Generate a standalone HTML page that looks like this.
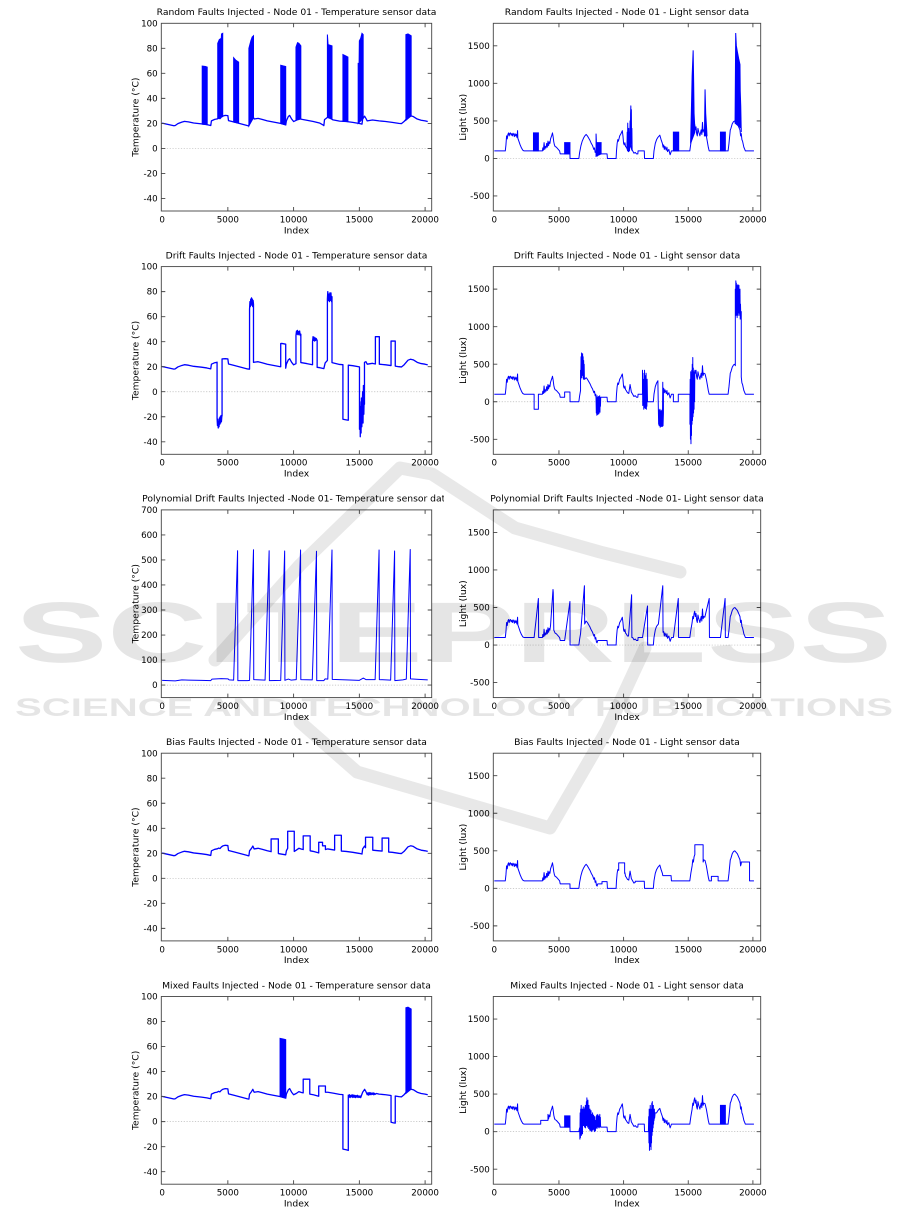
<!DOCTYPE html>
<html><head><meta charset="utf-8"><style>
html,body{margin:0;padding:0;background:#fff;}
svg{display:block;}
.t{font-family:"DejaVu Sans","Liberation Sans",sans-serif;font-size:8.7px;fill:#000;}
.ti{font-family:"DejaVu Sans","Liberation Sans",sans-serif;font-size:9.2px;fill:#000;text-anchor:middle;}
.ya text{text-anchor:end;}
.xa text{text-anchor:middle;}
.ax{fill:none;stroke:#444;stroke-width:0.9;}
.z{stroke:#bbb;stroke-width:0.7;stroke-dasharray:1.2,1.6;}
.d{fill:none;stroke:#0000ff;stroke-width:1.3;vector-effect:non-scaling-stroke;stroke-linejoin:round;}
.dl{fill:none;stroke:#0000ff;stroke-width:1;vector-effect:non-scaling-stroke;stroke-linejoin:round;}
.f{fill:#0000ff;stroke:#0000ff;stroke-width:1;vector-effect:non-scaling-stroke;}
</style></head><body>
<svg width="901" height="1209" viewBox="0 0 901 1209" xmlns="http://www.w3.org/2000/svg">
<defs>
<clipPath id="cl"><rect x="0" y="0" width="270.4" height="187.7"/></clipPath>
<clipPath id="cr"><rect x="0" y="0" width="267.4" height="187.7"/></clipPath>
<clipPath id="ct"><rect x="-200" y="-30" width="482.7" height="40"/></clipPath>
</defs>
<rect width="901" height="1209" fill="#fff"/>

<!-- ========== ROW 1 LEFT ========== -->
<g transform="translate(161.3,23.3)">
<line class="z" x1="0" x2="270.4" y1="125.13" y2="125.13"/>
<g clip-path="url(#cl)"><g transform="translate(0.8,125.13) scale(13.15,-1.2513)">
<polyline class="d" points="0,20.2 0.3,19.5 0.6,18.8 0.9,18.1 1,18.3 1.2,19.8 1.5,21 1.7,21.6 2,21.2 2.4,20.3 3,19.6 3.4,19 3.7,18.3 3.75,22 4,23.2 4.2,23.6 4.3,24.2 4.4,23.8 4.5,25 4.6,25.8 4.8,26.4 5,26.2 5.05,22.2 5.5,21 6,19.6 6.5,18.2 6.6,18 6.65,22 6.8,24 6.9,25.8 7,23.5 7.3,24 7.6,23.2 8,22 8.5,21 9,20 9.4,18.8 9.45,22 9.6,25.5 9.7,26.4 9.85,23.5 10,21.5 10.2,22.5 10.4,24 10.6,23.3 11,22.5 11.5,21.5 12,20.2 12.2,19 12.3,18.2 12.35,23 12.6,25 12.8,24.2 13,22.8 13.5,21.8 14,21.5 14.5,20.8 15,19.9 15.2,19.4 15.25,23.5 15.4,25.8 15.5,24 15.6,22 16,22.7 16.5,22 17,21.5 17.5,20.8 18,20 18.2,19.8 18.4,21.5 18.7,25.2 18.9,26 19.1,25.5 19.4,23.5 19.7,22.5 20,22 20.2,21.5"/>
<polygon class="f" points="3.05,19.4 3.05,65.8 3.3,65.5 3.43,65 3.43,19"/>
<polygon class="f" points="4.23,23.9 4.23,84 4.35,87 4.5,88 4.52,91.5 4.61,92 4.61,25.5"/>
<polygon class="f" points="5.44,21 5.44,72.5 5.6,70.5 5.82,69 5.82,20.2"/>
<polygon class="f" points="6.6,18 6.6,80 6.75,86 6.85,89 6.95,90 6.95,24.5"/>
<polygon class="f" points="9.02,19.9 9.02,66.5 9.2,66 9.4,65.5 9.4,18.8"/>
<polygon class="f" points="10.18,22.4 10.18,81 10.3,84.5 10.4,84 10.55,82 10.55,23.5"/>
<polygon class="f" points="12.57,24.8 12.57,91 12.62,83 12.92,82 12.92,23.3"/>
<polygon class="f" points="13.75,21.6 13.75,75 13.95,74 14.13,73 14.13,21.4"/>
<polygon class="f" points="14.91,20 14.91,68 14.98,68 15,86 15.1,88 15.2,92 15.29,91 15.29,24"/>
<polygon class="f" points="18.54,22.5 18.54,91 18.7,91.5 18.94,90 18.94,26"/>
</g></g>
<rect class="ax" x="0" y="0" width="270.4" height="187.7"/>
<path class="ax" d="M0 25.03h4M0 50.05h4M0 75.08h4M0 100.1h4M0 125.13h4M0 150.16h4M0 175.18h4M270.4 25.03h-4M270.4 50.05h-4M270.4 75.08h-4M270.4 100.1h-4M270.4 125.13h-4M270.4 150.16h-4M270.4 175.18h-4M66.55 187.7v-4M132.3 187.7v-4M198.05 187.7v-4M263.8 187.7v-4M66.55 0v4M132.3 0v4M198.05 0v4M263.8 0v4"/>
<g class="t ya"><text x="-3.6" y="3.1">100</text><text x="-3.6" y="28.13">80</text><text x="-3.6" y="53.15">60</text><text x="-3.6" y="78.18">40</text><text x="-3.6" y="103.2">20</text><text x="-3.6" y="128.23">0</text><text x="-3.6" y="153.26">-20</text><text x="-3.6" y="178.28">-40</text></g>
<g class="t xa"><text x="0.8" y="199.1">0</text><text x="66.55" y="199.1">5000</text><text x="132.3" y="199.1">10000</text><text x="198.05" y="199.1">15000</text><text x="263.8" y="199.1">20000</text></g>
<text class="ti" x="135.2" y="-8.2">Random Faults Injected - Node 01 - Temperature sensor data</text>
<text class="ti" x="135.2" y="210">Index</text>
<text class="ti" transform="translate(-23,93.85) rotate(-90)">Temperature (°C)</text>
</g>

<!-- ========== ROW 1 RIGHT ========== -->
<g transform="translate(493.3,23.3)">
<line class="z" x1="0" x2="267.4" y1="135.14" y2="135.14"/>
<g clip-path="url(#cr)"><g transform="translate(1,135.14) scale(12.93,-0.07508)">
<polyline class="dl" points="0,100 0.85,100 0.9,180 0.95,300 1,260 1.05,320 1.1,340 1.15,300 1.2,335 1.25,340 1.3,310 1.35,330 1.4,300 1.45,335 1.5,320 1.55,290 1.6,330 1.65,300 1.7,320 1.75,280 1.8,370 1.82,270 1.9,230 2,180 2.1,140 2.2,110 2.3,100 3.72,100 3.75,140 3.8,110 3.85,210 3.9,120 3.95,160 4,140 4.05,200 4.1,150 4.15,230 4.2,170 4.25,220 4.3,200 4.35,260 4.45,310 4.5,340 4.55,290 4.6,220 4.65,180 4.7,160 4.8,150 4.9,130 5,110 5.05,100 5.1,60 5.85,60 5.86,0 6.54,0 6.6,80 6.7,170 6.8,230 6.9,270 7,300 7.1,320 7.2,300 7.3,270 7.4,240 7.5,200 7.6,170 7.7,120 7.75,140 7.8,80 7.85,100 7.9,40 7.95,30 8,60 8.72,60 8.75,0 9.42,0 9.45,100 9.5,200 9.55,250 9.6,230 9.7,300 9.8,330 9.9,370 9.95,300 10,200 10.05,180 10.1,210 10.15,160 10.2,150 10.3,120 10.4,110 10.5,230 10.6,130 10.7,100 10.8,70 10.9,80 11,60 11.1,60 11.12,100 11.6,100 11.62,0 12.3,0 12.35,100 12.45,200 12.55,250 12.65,280 12.75,300 12.8,310 12.85,280 12.9,250 13,200 13.05,150 13.1,180 13.15,120 13.2,160 13.3,110 13.35,150 13.4,90 13.5,120 13.55,80 13.6,50 13.7,100 15.12,100 15.2,200 15.3,300 15.35,380 15.4,350 15.45,420 15.5,450 15.55,380 15.6,420 15.65,330 15.7,300 15.75,400 15.8,360 15.9,300 16,380 16.05,320 16.1,480 16.15,350 16.2,380 16.3,370 16.4,300 16.45,250 16.5,200 16.55,150 16.62,100 18.08,100 18.15,200 18.25,380 18.3,400 18.4,460 18.5,490 18.6,500 18.7,480 18.8,460 18.9,420 19,380 19.05,300 19.1,330 19.15,250 19.2,230 19.3,150 19.42,100 20.08,100"/>
<polygon class="f" points="3.03,100 3.03,340 3.41,340 3.41,100"/>
<polygon class="f" points="5.44,60 5.44,210 5.85,210 5.85,60"/>
<polygon class="f" points="7.87,30 7.87,330 7.9,210 8.26,210 8.26,60"/>
<polyline class="dl" points="10.26,120 10.28,350 10.3,100 10.32,470 10.34,110 10.36,300 10.38,90 10.4,400 10.42,120 10.44,350 10.46,100 10.5,500 10.52,150 10.54,600 10.56,700 10.58,200 10.6,650 10.62,120 10.64,400 10.66,100"/>
<polygon class="f" points="13.85,100 13.85,350 14.26,350 14.26,100"/>
<polygon class="f" points="15.18,200 15.25,700 15.3,1100 15.38,1440 15.42,1000 15.45,600 15.51,400 15.51,350"/>
<polygon class="f" points="16.25,300 16.3,920 16.35,600 16.42,400 16.45,300"/>
<polygon class="f" points="17.49,100 17.49,350 17.87,350 17.87,100"/>
<polygon class="f" points="18.62,480 18.67,1670 18.72,1500 18.8,1420 18.9,1330 19,1250 19.02,900 19.06,700 19.1,350 19.1,400 18.62,470"/>
</g></g>
<rect class="ax" x="0" y="0" width="267.4" height="187.7"/>
<path class="ax" d="M0 22.52h4M0 60.06h4M0 97.6h4M0 135.14h4M0 172.68h4M267.4 22.52h-4M267.4 60.06h-4M267.4 97.6h-4M267.4 135.14h-4M267.4 172.68h-4M65.65 187.7v-4M130.3 187.7v-4M194.95 187.7v-4M259.6 187.7v-4M65.65 0v4M130.3 0v4M194.95 0v4M259.6 0v4"/>
<g class="t ya"><text x="-3.5" y="25.62">1500</text><text x="-3.5" y="63.16">1000</text><text x="-3.5" y="100.7">500</text><text x="-3.5" y="138.24">0</text><text x="-3.5" y="175.78">-500</text></g>
<g class="t xa"><text x="1" y="199.1">0</text><text x="65.65" y="199.1">5000</text><text x="130.3" y="199.1">10000</text><text x="194.95" y="199.1">15000</text><text x="259.6" y="199.1">20000</text></g>
<text class="ti" x="133.7" y="-8.2">Random Faults Injected - Node 01 - Light sensor data</text>
<text class="ti" x="133.7" y="210">Index</text>
<text class="ti" transform="translate(-27.3,93.85) rotate(-90)">Light (lux)</text>
</g>

<!-- ========== ROW 2 LEFT ========== -->
<g transform="translate(161.3,266.6)">
<line class="z" x1="0" x2="270.4" y1="125.13" y2="125.13"/>
<g clip-path="url(#cl)"><g transform="translate(0.8,125.13) scale(13.15,-1.2513)">
<polyline class="d" points="0,20.2 0.3,19.5 0.6,18.8 0.9,18.1 1,18.3 1.2,19.8 1.5,21 1.7,21.6 2,21.2 2.4,20.3 3,19.6 3.4,19 3.7,18.3 3.75,22 4,23.2 4.18,23.6 4.18,-21 4.21,-27 4.24,-22 4.27,-29 4.3,-24 4.33,-28 4.36,-21 4.39,-26 4.42,-20 4.45,-25 4.48,-19 4.51,-24 4.54,-20 4.56,-19 4.56,26.2 4.8,26.4 5,26.2 5.05,22.2 5.5,21 6,19.6 6.5,18.2 6.65,18 6.65,66 6.68,72 6.71,68 6.74,74 6.77,69 6.8,75 6.83,70 6.86,74 6.89,68 6.92,73 6.95,70 6.95,23.5 7.3,24 7.6,23.2 8,22 8.5,21 9,20 9.02,20 9.02,38.5 9.1,38.6 9.4,38 9.4,18.8 9.45,22 9.6,25.5 9.7,26.4 9.85,23.5 10,21.5 10.18,22.4 10.18,45 10.22,48.5 10.26,46 10.3,49 10.34,45.5 10.38,48 10.42,46 10.46,48.5 10.5,45 10.55,46 10.55,23.3 11,22.5 11.44,21.6 11.44,40 11.48,44 11.52,41 11.56,43.5 11.6,40.5 11.64,43 11.68,41 11.72,42.5 11.79,41 11.79,19.5 12,19.2 12.3,18.5 12.4,23 12.57,25 12.57,74 12.6,80 12.64,73 12.68,78 12.72,72 12.76,79 12.8,73 12.84,79 12.88,72 12.92,76 12.92,23.3 13.5,21.8 13.75,21.6 13.75,-22 14,-22.5 14.16,-22.8 14.16,21.2 14.5,20.8 15,19.9 15.01,19.8 15.01,-30 15.04,-8 15.07,-36 15.1,-12 15.13,-33 15.16,-5 15.19,-28 15.22,-10 15.25,0 15.28,-25 15.31,5 15.34,-18 15.37,-3 15.39,-10 15.39,23.5 15.5,24 15.6,22 16,22.7 16.22,22.2 16.22,44 16.52,44 16.52,22 17,21.5 17.41,20.9 17.41,40.5 17.73,40.5 17.73,20.5 18,20 18.2,19.8 18.4,21.5 18.7,25.2 18.9,26 19.1,25.5 19.4,23.5 19.7,22.5 20,22 20.2,21.5"/>
</g></g>
<rect class="ax" x="0" y="0" width="270.4" height="187.7"/>
<path class="ax" d="M0 25.03h4M0 50.05h4M0 75.08h4M0 100.1h4M0 125.13h4M0 150.16h4M0 175.18h4M270.4 25.03h-4M270.4 50.05h-4M270.4 75.08h-4M270.4 100.1h-4M270.4 125.13h-4M270.4 150.16h-4M270.4 175.18h-4M66.55 187.7v-4M132.3 187.7v-4M198.05 187.7v-4M263.8 187.7v-4M66.55 0v4M132.3 0v4M198.05 0v4M263.8 0v4"/>
<g class="t ya"><text x="-3.6" y="3.1">100</text><text x="-3.6" y="28.13">80</text><text x="-3.6" y="53.15">60</text><text x="-3.6" y="78.18">40</text><text x="-3.6" y="103.2">20</text><text x="-3.6" y="128.23">0</text><text x="-3.6" y="153.26">-20</text><text x="-3.6" y="178.28">-40</text></g>
<g class="t xa"><text x="0.8" y="199.1">0</text><text x="66.55" y="199.1">5000</text><text x="132.3" y="199.1">10000</text><text x="198.05" y="199.1">15000</text><text x="263.8" y="199.1">20000</text></g>
<text class="ti" x="135.2" y="-8.2">Drift Faults Injected - Node 01 - Temperature sensor data</text>
<text class="ti" x="135.2" y="210">Index</text>
<text class="ti" transform="translate(-23,93.85) rotate(-90)">Temperature (°C)</text>
</g>

<!-- ========== ROW 2 RIGHT ========== -->
<g transform="translate(493.3,266.6)">
<line class="z" x1="0" x2="267.4" y1="135.14" y2="135.14"/>
<g clip-path="url(#cr)"><g transform="translate(1,135.14) scale(12.93,-0.07508)">
<polyline class="dl" points="0,100 0.85,100 0.9,180 0.95,300 1,260 1.05,320 1.1,340 1.15,300 1.2,335 1.25,340 1.3,310 1.35,330 1.4,300 1.45,335 1.5,320 1.55,290 1.6,330 1.65,300 1.7,320 1.75,280 1.8,370 1.82,270 1.9,230 2,180 2.1,140 2.2,110 2.3,100 3.08,100 3.08,-100 3.41,-100 3.41,100 3.72,100 3.75,140 3.8,110 3.85,210 3.9,120 3.95,160 4,140 4.05,200 4.1,150 4.15,230 4.2,170 4.25,220 4.3,200 4.35,260 4.45,310 4.5,340 4.55,290 4.6,220 4.65,180 4.7,160 4.8,150 4.9,130 5,110 5.05,100 5.1,60 5.44,60 5.44,130 5.85,130 5.86,0 6.54,0 6.6,80 6.67,150 6.67,420 6.69,300 6.71,600 6.73,350 6.75,650 6.77,320 6.79,580 6.81,400 6.83,640 6.85,350 6.87,600 6.89,300 6.91,550 6.93,380 6.95,500 6.97,300 7,300 7.1,320 7.2,300 7.3,270 7.4,240 7.5,200 7.6,170 7.7,120 7.75,140 7.8,80 7.85,100 7.87,40 7.89,-150 7.91,50 7.93,-180 7.95,80 7.97,-100 7.99,20 8.01,-170 8.03,60 8.05,-120 8.07,70 8.09,-160 8.11,30 8.13,-90 8.15,80 8.17,-140 8.19,40 8.21,-60 8.23,60 8.26,60 8.72,60 8.75,0 9.42,0 9.45,100 9.5,200 9.55,250 9.6,230 9.7,300 9.8,330 9.9,370 9.95,300 10,200 10.05,180 10.1,210 10.15,160 10.2,150 10.3,120 10.4,110 10.5,230 10.6,130 10.7,100 10.8,70 10.9,80 11,60 11.1,60 11.12,100 11.46,100 11.46,420 11.48,-50 11.5,380 11.52,0 11.54,300 11.56,-100 11.58,250 11.6,-80 11.62,420 11.64,50 11.66,350 11.68,-90 11.7,200 11.72,0 11.74,380 11.76,-100 11.78,150 11.8,-60 11.82,300 11.85,0 12.3,0 12.35,100 12.45,200 12.55,250 12.65,280 12.69,-120 12.71,-300 12.73,-110 12.75,-320 12.77,-130 12.79,-280 12.81,-100 12.83,-340 12.85,-150 12.87,-300 12.89,-120 12.91,-330 12.93,-140 12.95,-290 12.97,-110 12.99,-330 13.01,-160 13.03,260 13.05,-320 13.08,-150 13.08,150 13.1,180 13.15,120 13.2,160 13.3,110 13.35,150 13.4,90 13.5,120 13.55,80 13.6,50 13.7,100 13.85,100 13.85,0 14.23,0 14.23,100 15.13,100 15.13,-300 15.15,300 15.17,-500 15.19,400 15.21,-560 15.23,200 15.25,-450 15.27,420 15.29,-300 15.31,500 15.33,-250 15.35,590 15.37,-200 15.39,450 15.41,-150 15.43,400 15.45,-100 15.47,350 15.49,0 15.51,420 15.55,380 15.6,420 15.65,330 15.7,300 15.75,400 15.8,360 15.9,300 16,380 16.05,320 16.1,480 16.15,350 16.2,380 16.3,370 16.4,300 16.45,250 16.5,200 16.55,150 16.62,100 18.08,100 18.15,200 18.25,380 18.3,400 18.4,460 18.5,490 18.6,500 18.64,480 18.64,1500 18.66,1200 18.68,1610 18.7,1150 18.72,1580 18.74,1200 18.76,1550 18.78,1120 18.8,1500 18.82,1250 18.84,1560 18.86,1150 18.88,1450 18.9,1200 18.92,1550 18.94,1180 18.96,1400 18.98,1150 19,1500 19.02,1100 19.04,1300 19.06,1150 19.1,1200 19.1,330 19.15,250 19.2,230 19.3,150 19.42,100 20.08,100"/>
</g></g>
<rect class="ax" x="0" y="0" width="267.4" height="187.7"/>
<path class="ax" d="M0 22.52h4M0 60.06h4M0 97.6h4M0 135.14h4M0 172.68h4M267.4 22.52h-4M267.4 60.06h-4M267.4 97.6h-4M267.4 135.14h-4M267.4 172.68h-4M65.65 187.7v-4M130.3 187.7v-4M194.95 187.7v-4M259.6 187.7v-4M65.65 0v4M130.3 0v4M194.95 0v4M259.6 0v4"/>
<g class="t ya"><text x="-3.5" y="25.62">1500</text><text x="-3.5" y="63.16">1000</text><text x="-3.5" y="100.7">500</text><text x="-3.5" y="138.24">0</text><text x="-3.5" y="175.78">-500</text></g>
<g class="t xa"><text x="1" y="199.1">0</text><text x="65.65" y="199.1">5000</text><text x="130.3" y="199.1">10000</text><text x="194.95" y="199.1">15000</text><text x="259.6" y="199.1">20000</text></g>
<text class="ti" x="133.7" y="-8.2">Drift Faults Injected - Node 01 - Light sensor data</text>
<text class="ti" x="133.7" y="210">Index</text>
<text class="ti" transform="translate(-27.3,93.85) rotate(-90)">Light (lux)</text>
</g>

<!-- ========== ROW 3 LEFT ========== -->
<g transform="translate(161.3,509.9)">
<line class="z" x1="0" x2="270.4" y1="175.19" y2="175.19"/>
<g clip-path="url(#cl)"><g transform="translate(0.8,175.19) scale(13.15,-0.25027)">
<polyline class="dl" points="0,19 1,17 1.5,21 2,20 3,19 3.7,18 3.8,24 4.5,26 5,25 5.1,21 5.44,20 5.74,537 5.76,18 6.5,18 6.65,19 6.95,541 6.97,22 7.83,20 8.14,537 8.16,18 9.02,19 9.32,536 9.34,19 9.6,24 9.8,20 10.2,22 10.53,540 10.55,22 11.42,21 11.74,535 11.76,18 12.3,18 12.4,25 12.6,24 12.92,540 12.94,23 14,21 15,19 15.3,28 15.5,22 16.2,22 16.5,540 16.52,22 17.38,20 17.68,536 17.7,18 18.3,21 18.57,24 18.87,542 18.89,25 19.5,23 20.2,21"/>
</g></g>
<rect class="ax" x="0" y="0" width="270.4" height="187.7"/>
<path class="ax" d="M0 25.03h4M0 50.05h4M0 75.08h4M0 100.11h4M0 125.14h4M0 150.16h4M0 175.19h4M270.4 25.03h-4M270.4 50.05h-4M270.4 75.08h-4M270.4 100.11h-4M270.4 125.14h-4M270.4 150.16h-4M270.4 175.19h-4M66.55 187.7v-4M132.3 187.7v-4M198.05 187.7v-4M263.8 187.7v-4M66.55 0v4M132.3 0v4M198.05 0v4M263.8 0v4"/>
<g class="t ya"><text x="-3.6" y="3.1">700</text><text x="-3.6" y="28.13">600</text><text x="-3.6" y="53.15">500</text><text x="-3.6" y="78.18">400</text><text x="-3.6" y="103.21">300</text><text x="-3.6" y="128.24">200</text><text x="-3.6" y="153.26">100</text><text x="-3.6" y="178.29">0</text></g>
<g class="t xa"><text x="0.8" y="199.1">0</text><text x="66.55" y="199.1">5000</text><text x="132.3" y="199.1">10000</text><text x="198.05" y="199.1">15000</text><text x="263.8" y="199.1">20000</text></g>
<text class="ti" x="135.2" y="-8.2" clip-path="url(#ct)">Polynomial Drift Faults Injected -Node 01- Temperature sensor data</text>
<text class="ti" x="135.2" y="210">Index</text>
<text class="ti" transform="translate(-23,93.85) rotate(-90)">Temperature (°C)</text>
</g>

<!-- ========== ROW 3 RIGHT ========== -->
<g transform="translate(493.3,509.9)">
<line class="z" x1="0" x2="267.4" y1="135.14" y2="135.14"/>
<g clip-path="url(#cr)"><g transform="translate(1,135.14) scale(12.93,-0.07508)">
<polyline class="dl" points="0,100 0.85,100 0.9,180 0.95,300 1,260 1.05,320 1.1,340 1.15,300 1.2,335 1.25,340 1.3,310 1.35,330 1.4,300 1.45,335 1.5,320 1.55,290 1.6,330 1.65,300 1.7,320 1.75,280 1.8,370 1.82,270 1.9,230 2,180 2.1,140 2.2,110 2.3,100 3.08,100 3.41,620 3.43,100 3.72,100 3.75,140 3.8,110 3.85,210 3.9,120 3.95,160 4,140 4.05,200 4.1,150 4.15,230 4.2,170 4.25,220 4.3,200 4.35,260 4.54,740 4.56,700 4.6,200 4.65,180 4.7,160 4.8,150 4.9,130 5,110 5.05,100 5.1,60 5.44,60 5.85,580 5.86,0 6.54,0 6.6,80 6.67,150 6.97,790 6.99,280 7.1,320 7.2,300 7.3,270 7.4,240 7.5,200 7.6,170 7.7,120 7.75,140 7.8,80 7.85,100 7.9,40 7.95,30 8,60 8.72,60 8.75,0 9.42,0 9.45,100 9.5,200 9.55,250 9.6,230 9.7,300 9.8,330 9.9,370 9.95,300 10,200 10.05,180 10.1,210 10.15,160 10.2,150 10.3,120 10.38,120 10.62,670 10.64,100 10.7,100 10.8,70 10.9,80 11,60 11.1,60 11.12,100 11.46,100 11.85,520 11.86,0 12.3,0 12.35,100 12.45,200 12.55,250 12.69,280 13.03,790 13.05,170 13.1,180 13.15,120 13.2,160 13.3,110 13.35,150 13.4,90 13.5,120 13.55,80 13.6,50 13.7,100 13.85,100 14.23,620 14.25,100 15.12,100 15.2,200 15.3,300 15.35,380 15.4,350 15.45,420 15.5,450 15.55,380 15.6,420 15.65,330 15.7,300 15.75,400 15.8,360 15.9,300 16,380 16.05,320 16.1,480 16.15,350 16.2,380 16.28,370 16.62,620 16.64,100 17.49,100 17.85,620 17.87,100 18.08,100 18.15,200 18.25,380 18.3,400 18.4,460 18.5,490 18.6,500 18.7,480 18.8,460 18.9,420 19,380 19.05,300 19.1,330 19.15,250 19.2,230 19.3,150 19.42,100 20.08,100"/>
</g></g>
<rect class="ax" x="0" y="0" width="267.4" height="187.7"/>
<path class="ax" d="M0 22.52h4M0 60.06h4M0 97.6h4M0 135.14h4M0 172.68h4M267.4 22.52h-4M267.4 60.06h-4M267.4 97.6h-4M267.4 135.14h-4M267.4 172.68h-4M65.65 187.7v-4M130.3 187.7v-4M194.95 187.7v-4M259.6 187.7v-4M65.65 0v4M130.3 0v4M194.95 0v4M259.6 0v4"/>
<g class="t ya"><text x="-3.5" y="25.62">1500</text><text x="-3.5" y="63.16">1000</text><text x="-3.5" y="100.7">500</text><text x="-3.5" y="138.24">0</text><text x="-3.5" y="175.78">-500</text></g>
<g class="t xa"><text x="1" y="199.1">0</text><text x="65.65" y="199.1">5000</text><text x="130.3" y="199.1">10000</text><text x="194.95" y="199.1">15000</text><text x="259.6" y="199.1">20000</text></g>
<text class="ti" x="133.7" y="-8.2">Polynomial Drift Faults Injected -Node 01- Light sensor data</text>
<text class="ti" x="133.7" y="210">Index</text>
<text class="ti" transform="translate(-27.3,93.85) rotate(-90)">Light (lux)</text>
</g>

<!-- ========== ROW 4 LEFT ========== -->
<g transform="translate(161.3,753.2)">
<line class="z" x1="0" x2="270.4" y1="125.13" y2="125.13"/>
<g clip-path="url(#cl)"><g transform="translate(0.8,125.13) scale(13.15,-1.2513)">
<polyline class="d" points="0,20.2 0.3,19.5 0.6,18.8 0.9,18.1 1,18.3 1.2,19.8 1.5,21 1.7,21.6 2,21.2 2.4,20.3 3,19.6 3.4,19 3.7,18.3 3.75,22 4,23.2 4.2,23.6 4.3,24.2 4.4,23.8 4.5,25 4.6,25.8 4.8,26.4 5,26.2 5.05,22.2 5.5,21 6,19.6 6.5,18.2 6.6,18 6.65,22 6.8,24 6.9,25.8 7,23.5 7.3,24 7.6,23.2 8,22 8.29,21.3 8.29,31.5 8.84,31.5 8.84,19.8 9,19.5 9.4,18.8 9.45,22 9.55,24 9.55,37.6 10.05,37.6 10.05,21.5 10.2,22.5 10.4,24 10.6,23.3 10.73,23 10.73,33.9 11.26,33.9 11.26,22 11.5,21.5 11.91,20.3 11.91,28.8 12.2,28.8 12.2,26 12.42,26 12.42,23 12.6,23.5 13,22.8 13.12,22.6 13.12,34.4 13.63,34.4 13.63,21.8 14,21.5 14.5,20.8 15,19.9 15.2,19.4 15.25,23.5 15.4,25.8 15.47,24.5 15.47,32.8 16.02,32.8 16.02,22.5 16.5,22 16.73,21.8 16.73,32.2 17.23,32.2 17.23,21 17.5,20.8 18,20 18.2,19.8 18.4,21.5 18.7,25.2 18.9,26 19.1,25.5 19.4,23.5 19.7,22.5 20,22 20.2,21.5"/>
</g></g>
<rect class="ax" x="0" y="0" width="270.4" height="187.7"/>
<path class="ax" d="M0 25.03h4M0 50.05h4M0 75.08h4M0 100.1h4M0 125.13h4M0 150.16h4M0 175.18h4M270.4 25.03h-4M270.4 50.05h-4M270.4 75.08h-4M270.4 100.1h-4M270.4 125.13h-4M270.4 150.16h-4M270.4 175.18h-4M66.55 187.7v-4M132.3 187.7v-4M198.05 187.7v-4M263.8 187.7v-4M66.55 0v4M132.3 0v4M198.05 0v4M263.8 0v4"/>
<g class="t ya"><text x="-3.6" y="3.1">100</text><text x="-3.6" y="28.13">80</text><text x="-3.6" y="53.15">60</text><text x="-3.6" y="78.18">40</text><text x="-3.6" y="103.2">20</text><text x="-3.6" y="128.23">0</text><text x="-3.6" y="153.26">-20</text><text x="-3.6" y="178.28">-40</text></g>
<g class="t xa"><text x="0.8" y="199.1">0</text><text x="66.55" y="199.1">5000</text><text x="132.3" y="199.1">10000</text><text x="198.05" y="199.1">15000</text><text x="263.8" y="199.1">20000</text></g>
<text class="ti" x="135.2" y="-8.2">Bias Faults Injected - Node 01 - Temperature sensor data</text>
<text class="ti" x="135.2" y="210">Index</text>
<text class="ti" transform="translate(-23,93.85) rotate(-90)">Temperature (°C)</text>
</g>

<!-- ========== ROW 4 RIGHT ========== -->
<g transform="translate(493.3,753.2)">
<line class="z" x1="0" x2="267.4" y1="135.14" y2="135.14"/>
<g clip-path="url(#cr)"><g transform="translate(1,135.14) scale(12.93,-0.07508)">
<polyline class="dl" points="0,100 0.85,100 0.9,180 0.95,300 1,260 1.05,320 1.1,340 1.15,300 1.2,335 1.25,340 1.3,310 1.35,330 1.4,300 1.45,335 1.5,320 1.55,290 1.6,330 1.65,300 1.7,320 1.75,280 1.8,370 1.82,270 1.9,230 2,180 2.1,140 2.2,110 2.3,100 3.72,100 3.75,140 3.8,110 3.85,210 3.9,120 3.95,160 4,140 4.05,200 4.1,150 4.15,230 4.2,170 4.25,220 4.3,200 4.35,260 4.45,310 4.5,340 4.55,290 4.6,220 4.65,180 4.7,160 4.8,150 4.9,130 5,110 5.05,100 5.1,60 5.85,60 5.86,0 6.54,0 6.6,80 6.7,170 6.8,230 6.9,270 7,300 7.1,320 7.2,300 7.3,270 7.4,240 7.5,200 7.6,170 7.7,120 7.75,140 7.8,80 7.85,100 7.9,40 7.95,30 8,60 8.33,60 8.33,90 8.72,90 8.75,0 9.42,0 9.45,100 9.5,200 9.55,250 9.62,240 9.62,340 10.08,340 10.08,200 10.1,210 10.15,160 10.2,150 10.3,120 10.4,110 10.5,230 10.6,130 10.7,100 10.8,70 10.9,80 10.9,95 11.6,95 11.62,0 12.3,0 12.35,100 12.45,200 12.55,250 12.65,280 12.75,300 12.8,310 12.85,280 12.9,250 13,200 13.03,170 13.67,170 13.7,100 15.12,100 15.2,200 15.3,300 15.35,380 15.4,350 15.45,420 15.51,450 15.51,580 16.15,580 16.15,350 16.2,380 16.3,370 16.4,300 16.45,250 16.5,200 16.55,150 16.62,100 16.79,100 16.79,160 17.31,160 17.31,100 18.08,100 18.15,200 18.25,380 18.3,400 18.4,460 18.5,490 18.6,500 18.7,480 18.8,460 18.9,420 19,380 19.05,300 19.1,330 19.1,350 19.74,350 19.74,100 20.08,100"/>
</g></g>
<rect class="ax" x="0" y="0" width="267.4" height="187.7"/>
<path class="ax" d="M0 22.52h4M0 60.06h4M0 97.6h4M0 135.14h4M0 172.68h4M267.4 22.52h-4M267.4 60.06h-4M267.4 97.6h-4M267.4 135.14h-4M267.4 172.68h-4M65.65 187.7v-4M130.3 187.7v-4M194.95 187.7v-4M259.6 187.7v-4M65.65 0v4M130.3 0v4M194.95 0v4M259.6 0v4"/>
<g class="t ya"><text x="-3.5" y="25.62">1500</text><text x="-3.5" y="63.16">1000</text><text x="-3.5" y="100.7">500</text><text x="-3.5" y="138.24">0</text><text x="-3.5" y="175.78">-500</text></g>
<g class="t xa"><text x="1" y="199.1">0</text><text x="65.65" y="199.1">5000</text><text x="130.3" y="199.1">10000</text><text x="194.95" y="199.1">15000</text><text x="259.6" y="199.1">20000</text></g>
<text class="ti" x="133.7" y="-8.2">Bias Faults Injected - Node 01 - Light sensor data</text>
<text class="ti" x="133.7" y="210">Index</text>
<text class="ti" transform="translate(-27.3,93.85) rotate(-90)">Light (lux)</text>
</g>

<!-- ========== ROW 5 LEFT ========== -->
<g transform="translate(161.3,996.5)">
<line class="z" x1="0" x2="270.4" y1="125.13" y2="125.13"/>
<g clip-path="url(#cl)"><g transform="translate(0.8,125.13) scale(13.15,-1.2513)">
<polyline class="d" points="0,20.2 0.3,19.5 0.6,18.8 0.9,18.1 1,18.3 1.2,19.8 1.5,21 1.7,21.6 2,21.2 2.4,20.3 3,19.6 3.4,19 3.7,18.3 3.75,22 4,23.2 4.2,23.6 4.3,24.2 4.4,23.8 4.5,25 4.6,25.8 4.8,26.4 5,26.2 5.05,22.2 5.5,21 6,19.6 6.5,18.2 6.6,18 6.65,22 6.8,24 6.9,25.8 7,23.5 7.3,24 7.6,23.2 8,22 8.5,21 9,20 9.4,18.8 9.45,22 9.6,25.5 9.7,26.4 9.85,23.5 10,21.5 10.2,22.5 10.4,24 10.6,23.3 10.73,23 10.73,33.9 11.23,33.9 11.23,22 11.5,21.5 11.91,20.3 11.91,28.5 12.42,28.5 12.42,23.5 12.6,23.5 13,22.8 13.5,21.8 13.75,21.6 13.75,-22 14,-22.5 14.16,-23 14.16,21.2 14.2,19.5 14.25,21.5 14.3,19.2 14.35,21 14.4,19.8 14.45,21.5 14.5,19.3 14.55,21.2 14.6,19.5 14.65,21 14.7,19.2 14.75,20.8 14.8,19.6 14.85,21 14.9,19.3 14.95,20.5 15,19.4 15.05,20.5 15.1,19.2 15.25,23.5 15.4,25.8 15.5,24 15.6,21.5 15.65,23 15.7,21.2 15.75,23.2 15.8,21.5 15.85,23 15.9,21.6 15.95,22.8 16,21.8 16.05,23 16.1,21.5 16.15,22.6 16.2,21.8 16.3,22.5 16.5,22 17,21.5 17.41,20.9 17.41,-0.5 17.6,-1 17.73,-1.2 17.73,20.5 18,20 18.2,19.8 18.4,21.5 18.7,25.2 18.9,26 19.1,25.5 19.4,23.5 19.7,22.5 20,22 20.2,21.5"/>
<polygon class="f" points="8.97,20 8.97,66.5 9.2,66 9.4,65.5 9.4,18.8"/>
<polygon class="f" points="18.54,22.5 18.54,91 18.7,91.5 18.94,90 18.94,26"/>
</g></g>
<rect class="ax" x="0" y="0" width="270.4" height="187.7"/>
<path class="ax" d="M0 25.03h4M0 50.05h4M0 75.08h4M0 100.1h4M0 125.13h4M0 150.16h4M0 175.18h4M270.4 25.03h-4M270.4 50.05h-4M270.4 75.08h-4M270.4 100.1h-4M270.4 125.13h-4M270.4 150.16h-4M270.4 175.18h-4M66.55 187.7v-4M132.3 187.7v-4M198.05 187.7v-4M263.8 187.7v-4M66.55 0v4M132.3 0v4M198.05 0v4M263.8 0v4"/>
<g class="t ya"><text x="-3.6" y="3.1">100</text><text x="-3.6" y="28.13">80</text><text x="-3.6" y="53.15">60</text><text x="-3.6" y="78.18">40</text><text x="-3.6" y="103.2">20</text><text x="-3.6" y="128.23">0</text><text x="-3.6" y="153.26">-20</text><text x="-3.6" y="178.28">-40</text></g>
<g class="t xa"><text x="0.8" y="199.1">0</text><text x="66.55" y="199.1">5000</text><text x="132.3" y="199.1">10000</text><text x="198.05" y="199.1">15000</text><text x="263.8" y="199.1">20000</text></g>
<text class="ti" x="135.2" y="-8.2">Mixed Faults Injected - Node 01 - Temperature sensor data</text>
<text class="ti" x="135.2" y="210">Index</text>
<text class="ti" transform="translate(-23,93.85) rotate(-90)">Temperature (°C)</text>
</g>

<!-- ========== ROW 5 RIGHT ========== -->
<g transform="translate(493.3,996.5)">
<line class="z" x1="0" x2="267.4" y1="135.14" y2="135.14"/>
<g clip-path="url(#cr)"><g transform="translate(1,135.14) scale(12.93,-0.07508)">
<polyline class="dl" points="0,100 0.85,100 0.9,180 0.95,300 1,260 1.05,320 1.1,340 1.15,300 1.2,335 1.25,340 1.3,310 1.35,330 1.4,300 1.45,335 1.5,320 1.55,290 1.6,330 1.65,300 1.7,320 1.75,280 1.8,370 1.82,270 1.9,230 2,180 2.1,140 2.2,110 2.3,100 3.59,100 3.59,150 4.15,150 4.15,230 4.2,170 4.25,220 4.3,200 4.35,260 4.45,310 4.5,340 4.55,290 4.6,220 4.65,180 4.7,160 4.8,150 4.9,130 5,110 5.05,100 5.1,60 5.85,60 5.86,0 6.54,0 6.6,50 6.62,-100 6.64,250 6.66,-80 6.68,300 6.7,0 6.72,350 6.74,-50 6.76,200 6.78,50 6.8,300 6.82,-30 6.84,250 6.86,100 6.88,330 6.9,80 6.92,280 6.94,120 6.96,300 6.98,60 7,320 7.02,100 7.04,350 7.06,50 7.08,300 7.1,120 7.12,400 7.14,80 7.16,450 7.18,100 7.2,380 7.22,60 7.24,420 7.26,150 7.28,300 7.3,40 7.32,350 7.34,100 7.36,280 7.38,20 7.4,300 7.42,80 7.44,250 7.46,10 7.48,280 7.5,60 7.52,230 7.54,0 7.56,200 7.58,40 7.6,250 7.62,20 7.64,180 7.66,50 7.68,220 7.7,30 7.72,150 7.74,0 7.76,200 7.78,50 7.8,150 7.82,10 7.84,120 7.86,50 7.88,200 7.9,60 7.92,220 7.94,40 7.96,180 7.98,70 8,230 8.02,60 8.04,200 8.06,80 8.08,210 8.1,50 8.12,180 8.14,70 8.16,230 8.18,60 8.2,190 8.22,70 8.26,60 8.72,60 8.75,0 9.42,0 9.45,100 9.5,200 9.55,250 9.6,230 9.7,300 9.8,330 9.9,370 9.95,300 10,200 10.05,180 10.1,210 10.15,160 10.2,150 10.3,120 10.4,110 10.5,230 10.6,130 10.7,100 10.8,70 10.9,80 11,60 11.1,60 11.12,100 11.6,100 11.62,0 11.92,0 11.94,200 11.96,-150 11.98,300 12,-250 12.02,250 12.04,-200 12.06,350 12.08,-100 12.1,300 12.12,-240 12.14,200 12.16,-150 12.18,380 12.2,-50 12.22,400 12.24,0 12.26,300 12.28,50 12.3,350 12.32,100 12.34,250 12.36,150 12.38,300 12.4,180 12.44,250 12.55,250 12.65,280 12.75,300 12.8,310 12.85,280 12.9,250 13,200 13.05,150 13.1,180 13.15,120 13.2,160 13.3,110 13.35,150 13.4,90 13.5,120 13.55,80 13.6,50 13.7,100 15.12,100 15.2,200 15.3,300 15.35,380 15.4,350 15.45,420 15.5,450 15.55,380 15.6,420 15.65,330 15.7,300 15.75,400 15.8,360 15.9,300 16,380 16.05,320 16.1,480 16.15,350 16.2,380 16.3,370 16.4,300 16.45,250 16.5,200 16.55,150 16.62,100 18.08,100 18.15,200 18.25,380 18.3,400 18.4,460 18.5,490 18.6,500 18.7,480 18.8,460 18.9,420 19,380 19.05,300 19.1,330 19.15,250 19.2,230 19.3,150 19.42,100 20.08,100"/>
<polygon class="f" points="5.44,60 5.44,210 5.85,210 5.85,60"/>
<polygon class="f" points="17.49,100 17.49,350 17.87,350 17.87,100"/>
</g></g>
<rect class="ax" x="0" y="0" width="267.4" height="187.7"/>
<path class="ax" d="M0 22.52h4M0 60.06h4M0 97.6h4M0 135.14h4M0 172.68h4M267.4 22.52h-4M267.4 60.06h-4M267.4 97.6h-4M267.4 135.14h-4M267.4 172.68h-4M65.65 187.7v-4M130.3 187.7v-4M194.95 187.7v-4M259.6 187.7v-4M65.65 0v4M130.3 0v4M194.95 0v4M259.6 0v4"/>
<g class="t ya"><text x="-3.5" y="25.62">1500</text><text x="-3.5" y="63.16">1000</text><text x="-3.5" y="100.7">500</text><text x="-3.5" y="138.24">0</text><text x="-3.5" y="175.78">-500</text></g>
<g class="t xa"><text x="1" y="199.1">0</text><text x="65.65" y="199.1">5000</text><text x="130.3" y="199.1">10000</text><text x="194.95" y="199.1">15000</text><text x="259.6" y="199.1">20000</text></g>
<text class="ti" x="133.7" y="-8.2">Mixed Faults Injected - Node 01 - Light sensor data</text>
<text class="ti" x="133.7" y="210">Index</text>
<text class="ti" transform="translate(-27.3,93.85) rotate(-90)">Light (lux)</text>
</g>

<!-- ========== WATERMARK ========== -->
<g fill="none" stroke="#000" stroke-opacity="0.09" stroke-width="13" stroke-linejoin="round" stroke-linecap="round">
<polyline points="215,660 300,565 400,468 432,474 515,528 600,552 680,572"/>
<polyline points="300,722 357,772 550,828 607,730 645,648"/>
</g>
<text x="15" y="662" font-family="Liberation Sans, sans-serif" font-weight="bold" font-size="86" textLength="877" lengthAdjust="spacingAndGlyphs" fill="#000" fill-opacity="0.1">SCITEPRESS</text>
<text x="15" y="716" font-family="Liberation Sans, sans-serif" font-weight="bold" font-size="25" textLength="878" lengthAdjust="spacingAndGlyphs" fill="#000" fill-opacity="0.1">SCIENCE AND TECHNOLOGY PUBLICATIONS</text>
</svg>
</body></html>
